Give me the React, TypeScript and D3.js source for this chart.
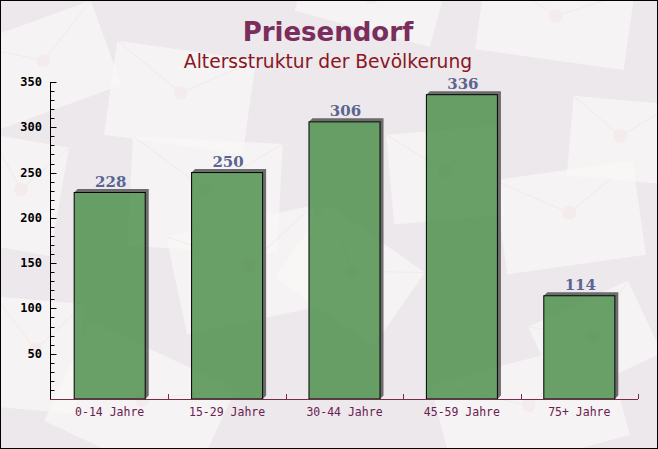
import React from "react";
import * as d3 from "d3";

const categories = ["0-14 Jahre", "15-29 Jahre", "30-44 Jahre", "45-59 Jahre", "75+ Jahre"];
const values = [228, 250, 306, 336, 114];
const yTicks = [50, 100, 150, 200, 250, 300, 350];
const title = "Priesendorf";
const subtitle = "Altersstruktur der Bevölkerung";

const W = 658;
const H = 449;

const envelopes = [
  { x: -20, y: 20, w: 130, h: 90, r: -20 },
  { x: 110, y: 50, w: 140, h: 95, r: 8 },
  { x: 130, y: 140, w: 150, h: 110, r: 3 },
  { x: 175, y: 220, w: 150, h: 100, r: -12 },
  { x: 290, y: 230, w: 120, h: 90, r: 35 },
  { x: 390, y: 130, w: 110, h: 90, r: -5 },
  { x: 500, y: 170, w: 140, h: 95, r: -8 },
  { x: 570, y: 100, w: 100, h: 80, r: 5 },
  { x: 480, y: -20, w: 150, h: 80, r: 8 },
  { x: 300, y: -30, w: 140, h: 60, r: 15 },
  { x: -10, y: 300, w: 90, h: 110, r: 5 },
  { x: 60, y: 350, w: 160, h: 110, r: 25 },
  { x: 440, y: 360, w: 180, h: 100, r: -15 },
  { x: 540, y: 300, w: 110, h: 80, r: -25 },
  { x: -20, y: 140, w: 80, h: 110, r: 10 },
];

export default function App() {
  const x = d3.scaleBand<string>().domain(categories).range([51, 638]).padding(0);
  const y = d3.scaleLinear().domain([0, 350]).range([399, 82]);
  const bw = x.bandwidth() * 0.605;
  const minor = d3.range(10, 351, 10).filter((v) => v % 50 !== 0);
  const off = 3.5;

  return (
    <svg
      width={W}
      height={H}
      style={{ position: "absolute", left: 0, top: 0, display: "block" }}
      xmlns="http://www.w3.org/2000/svg"
    >
      <rect x={0} y={0} width={W} height={H} fill="#ece8ec" />
      {envelopes.map((e, i) => (
        <g key={i} transform={`rotate(${e.r} ${e.x + e.w / 2} ${e.y + e.h / 2})`}>
          <rect x={e.x} y={e.y} width={e.w} height={e.h} fill="#faf7f7" opacity={0.75} />
          <path
            d={`M${e.x},${e.y} L${e.x + e.w / 2},${e.y + e.h * 0.45} L${e.x + e.w},${e.y}`}
            fill="none"
            stroke="#f2eaea"
            strokeWidth={1}
          />
          <circle cx={e.x + e.w / 2} cy={e.y + e.h * 0.45} r={7} fill="#f4ecec" />
        </g>
      ))}
      <rect x={0.5} y={0.5} width={W - 1} height={H - 1} fill="none" stroke="#000" />

      <text
        x={328}
        y={41}
        textAnchor="middle"
        fontFamily="DejaVu Sans"
        fontWeight="bold"
        fontSize={26}
        fill="#7b2d5b"
      >
        {title}
      </text>
      <text x={328} y={68} textAnchor="middle" fontFamily="DejaVu Sans" fontSize={18.7} fill="#8b1522">
        {subtitle}
      </text>

      {/* bars */}
      {categories.map((c, i) => {
        const bx = (x(c) as number) + (x.bandwidth() - bw) / 2;
        const by = y(values[i]);
        const bh = y(0) - by;
        return (
          <g key={c}>
            <path
              d={`M${bx},${by} L${bx + off},${by - off} L${bx + bw + off},${by - off} L${bx + bw + off},${y(0) - off} L${bx + bw},${y(0)} L${bx + bw},${by} Z`}
              fill="#555"
              opacity={0.85}
            />
            <rect x={bx} y={by} width={bw} height={bh} fill="#4f914f" fillOpacity={0.85} stroke="#000" strokeWidth={1} />
            <text
              x={bx + bw / 2 + 1}
              y={by - 5.5}
              textAnchor="middle"
              fontFamily="DejaVu Serif"
              fontWeight="bold"
              fontSize={15}
              fill="#5b6591"
            >
              {values[i]}
            </text>
          </g>
        );
      })}

      {/* y axis */}
      <line x1={50.5} x2={50.5} y1={82} y2={399} stroke="#000" />
      {minor.map((v) => (
        <line key={v} x1={50.5} x2={54.5} y1={Math.round(y(v)) + 0.5} y2={Math.round(y(v)) + 0.5} stroke="#000" />
      ))}
      {yTicks.map((v) => (
        <g key={v}>
          <line x1={50.5} x2={56.5} y1={Math.round(y(v)) + 0.5} y2={Math.round(y(v)) + 0.5} stroke="#000" />
          <text
            x={42}
            y={y(v) + 4}
            textAnchor="end"
            fontFamily="DejaVu Sans Mono"
            fontWeight="bold"
            fontSize={12}
            fill="#000"
          >
            {v}
          </text>
        </g>
      ))}

      {/* x axis */}
      <line x1={50} x2={638} y1={399.5} y2={399.5} stroke="#7a2a50" />
      {categories.map((c) => (
        <line
          key={"t" + c}
          x1={Math.round((x(c) as number) + x.bandwidth()) + 0.5}
          x2={Math.round((x(c) as number) + x.bandwidth()) + 0.5}
          y1={399}
          y2={394}
          stroke="#7a2a50"
        />
      ))}
      {categories.map((c) => (
        <text
          key={"l" + c}
          x={(x(c) as number) + x.bandwidth() / 2}
          y={416}
          textAnchor="middle"
          fontFamily="DejaVu Sans Mono"
          fontSize={11.5}
          fill="#6b2050"
        >
          {c}
        </text>
      ))}
    </svg>
  );
}
